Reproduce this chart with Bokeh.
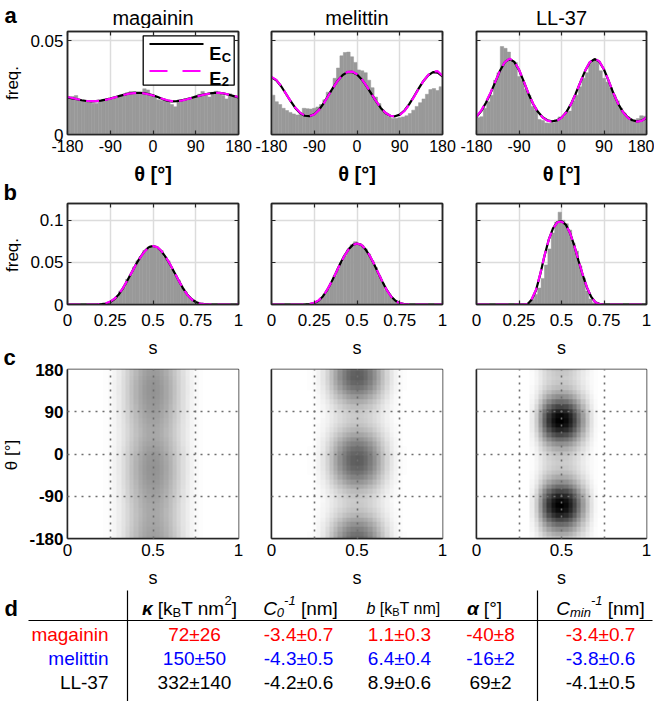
import numpy as np
from bokeh.plotting import figure
from bokeh.layouts import column, row
from bokeh.models import (Range1d, FixedTicker, LinearAxis, LinearColorMapper,
                          CustomJSTickFormatter)
from bokeh.core.properties import value
from bokeh.embed import file_html
from bokeh.resources import INLINE

FONT = "Liberation Sans"
HIST = "#999999"
MAGENTA = "#ff00ff"
AXC = "#262626"

peptides = ["magainin", "melittin", "LL-37"]
row_colors = ["#ff0000", "#0000ff", "#000000"]

theta_ticks = [-180, -90, 0, 90, 180]
theta_grid_ticks = [-90, 0, 90]
freq_ticks_a = [0, 0.05]
s_ticks_b = [0, 0.25, 0.5, 0.75, 1]
freq_ticks_b = [0, 0.05, 0.1]
s_ticks_c = [0, 0.5, 1]
s_grid_c = [0.25, 0.5, 0.75]

# ---- panel a: theta histograms (50 bins, -180..180) ----
theta_hist_magainin = [0.0200, 0.0203, 0.0208, 0.0186, 0.0180, 0.0176, 0.0170, 0.0167, 0.0165, 0.0183,
                       0.0180, 0.0190, 0.0194, 0.0199, 0.0203, 0.0209, 0.0210, 0.0224, 0.0230, 0.0229,
                       0.0220, 0.0226, 0.0244, 0.0238, 0.0215, 0.0205, 0.0186, 0.0182, 0.0184, 0.0178,
                       0.0160, 0.0148, 0.0180, 0.0186, 0.0190, 0.0193, 0.0195, 0.0204, 0.0215, 0.0230,
                       0.0212, 0.0200, 0.0225, 0.0231, 0.0224, 0.0208, 0.0190, 0.0217, 0.0206, 0.0200]
theta_hist_melittin = [0.0210, 0.0175, 0.0160, 0.0140, 0.0128, 0.0118, 0.0110, 0.0104, 0.0106, 0.0140,
                       0.0138, 0.0136, 0.0140, 0.0147, 0.0160, 0.0185, 0.0226, 0.0232, 0.0300, 0.0355,
                       0.0420, 0.0438, 0.0440, 0.0415, 0.0385, 0.0345, 0.0340, 0.0330, 0.0290, 0.0250,
                       0.0200, 0.0165, 0.0130, 0.0110, 0.0095, 0.0085, 0.0087, 0.0090, 0.0094, 0.0100,
                       0.0112, 0.0130, 0.0150, 0.0170, 0.0190, 0.0215, 0.0240, 0.0245, 0.0235, 0.0255]
theta_hist_ll37 = [0.0090, 0.0095, 0.0140, 0.0175, 0.0210, 0.0290, 0.0330, 0.0470, 0.0460, 0.0440,
                   0.0395, 0.0385, 0.0310, 0.0290, 0.0240, 0.0210, 0.0150, 0.0130, 0.0080, 0.0075,
                   0.0062, 0.0060, 0.0062, 0.0080, 0.0094, 0.0095, 0.0120, 0.0125, 0.0180, 0.0210,
                   0.0255, 0.0300, 0.0330, 0.0380, 0.0400, 0.0390, 0.0340, 0.0300, 0.0280, 0.0250,
                   0.0210, 0.0180, 0.0140, 0.0115, 0.0095, 0.0082, 0.0078, 0.0085, 0.0100, 0.0098]

# ---- panel a: fitted curves, theta = -180..180 step 10 ----
theta_Ec_magainin = [0.0198, 0.0193, 0.0188, 0.0183, 0.0179, 0.0177, 0.0178, 0.0181, 0.0186, 0.0192,
                     0.0199, 0.0206, 0.0213, 0.0219, 0.0222, 0.0223, 0.0221, 0.0216, 0.0209, 0.0200,
                     0.0190, 0.0181, 0.0177, 0.0178, 0.0182, 0.0188, 0.0195, 0.0202, 0.0209, 0.0215,
                     0.0220, 0.0222, 0.0222, 0.0218, 0.0212, 0.0205, 0.0198]
theta_E2_magainin = [0.0200, 0.0195, 0.0189, 0.0184, 0.0180, 0.0178, 0.0178, 0.0181, 0.0185, 0.0191,
                     0.0198, 0.0205, 0.0212, 0.0218, 0.0221, 0.0222, 0.0220, 0.0215, 0.0208, 0.0200,
                     0.0191, 0.0183, 0.0178, 0.0178, 0.0181, 0.0187, 0.0194, 0.0201, 0.0208, 0.0214,
                     0.0219, 0.0222, 0.0222, 0.0219, 0.0213, 0.0206, 0.0200]
theta_Ec_melittin = [0.0305, 0.0290, 0.0259, 0.0219, 0.0179, 0.0142, 0.0115, 0.0100, 0.0098, 0.0108,
                     0.0132, 0.0168, 0.0210, 0.0252, 0.0290, 0.0318, 0.0333, 0.0334, 0.0320, 0.0294,
                     0.0258, 0.0218, 0.0178, 0.0142, 0.0115, 0.0100, 0.0097, 0.0106, 0.0128, 0.0162,
                     0.0203, 0.0246, 0.0286, 0.0316, 0.0333, 0.0330, 0.0310]
theta_E2_melittin = [0.0308, 0.0292, 0.0260, 0.0220, 0.0180, 0.0144, 0.0117, 0.0101, 0.0098, 0.0107,
                     0.0130, 0.0166, 0.0208, 0.0250, 0.0289, 0.0318, 0.0334, 0.0336, 0.0322, 0.0296,
                     0.0260, 0.0219, 0.0179, 0.0143, 0.0116, 0.0100, 0.0096, 0.0104, 0.0126, 0.0160,
                     0.0201, 0.0245, 0.0286, 0.0318, 0.0337, 0.0338, 0.0314]
theta_Ec_ll37 = [0.0094, 0.0125, 0.0170, 0.0222, 0.0282, 0.0342, 0.0386, 0.0403, 0.0388, 0.0345,
                 0.0283, 0.0218, 0.0163, 0.0121, 0.0092, 0.0076, 0.0070, 0.0075, 0.0090, 0.0119,
                 0.0162, 0.0218, 0.0280, 0.0340, 0.0385, 0.0403, 0.0389, 0.0347, 0.0285, 0.0220,
                 0.0164, 0.0121, 0.0092, 0.0076, 0.0070, 0.0074, 0.0090]
theta_E2_ll37 = [0.0096, 0.0128, 0.0173, 0.0225, 0.0284, 0.0343, 0.0387, 0.0405, 0.0390, 0.0347,
                 0.0285, 0.0220, 0.0164, 0.0121, 0.0091, 0.0074, 0.0068, 0.0073, 0.0089, 0.0118,
                 0.0161, 0.0217, 0.0280, 0.0341, 0.0387, 0.0406, 0.0391, 0.0348, 0.0286, 0.0221,
                 0.0164, 0.0120, 0.0090, 0.0074, 0.0069, 0.0073, 0.0092]

# ---- panel b: s histograms (50 bins, 0..1) ----
s_hist_magainin = [0, 0, 0, 0, 0, 0, 0, 0, 0, 0.0001,
                   0.0005, 0.0012, 0.0025, 0.0050, 0.0090, 0.0160, 0.0200, 0.0300, 0.0350, 0.0445,
                   0.0520, 0.0570, 0.0640, 0.0660, 0.0700, 0.0690, 0.0660, 0.0640, 0.0560, 0.0520,
                   0.0420, 0.0350, 0.0290, 0.0200, 0.0150, 0.0090, 0.0050, 0.0025, 0.0012, 0.0005,
                   0.0001, 0, 0, 0, 0, 0, 0, 0, 0, 0]
s_hist_melittin = [0, 0, 0, 0, 0, 0, 0, 0, 0, 0,
                   0, 0.0006, 0.0015, 0.0035, 0.0070, 0.0120, 0.0180, 0.0255, 0.0340, 0.0420,
                   0.0500, 0.0580, 0.0650, 0.0710, 0.0745, 0.0720, 0.0705, 0.0660, 0.0600, 0.0520,
                   0.0440, 0.0340, 0.0255, 0.0170, 0.0115, 0.0065, 0.0030, 0.0012, 0.0004, 0,
                   0, 0, 0, 0, 0, 0, 0, 0, 0, 0]
s_hist_ll37 = [0, 0, 0, 0, 0, 0, 0, 0, 0, 0,
               0, 0, 0, 0, 0.0005, 0.0020, 0.0060, 0.0120, 0.0196, 0.0310,
               0.0470, 0.0660, 0.0850, 0.0980, 0.1097, 0.1000, 0.0960, 0.0885, 0.0730, 0.0635,
               0.0460, 0.0315, 0.0160, 0.0065, 0.0020, 0.0005, 0, 0, 0, 0,
               0, 0, 0, 0, 0, 0, 0, 0, 0, 0]

# ---- panel b: fitted curves, s = 0..1 step 0.025 ----
s_Ec_magainin = [0, 0, 0, 0, 0, 0, 0, 0.0001, 0.0004, 0.0012, 0.0030, 0.0065, 0.0120, 0.0195,
                 0.0285, 0.0380, 0.0475, 0.0560, 0.0632, 0.0680, 0.0695, 0.0680, 0.0632, 0.0560,
                 0.0475, 0.0380, 0.0285, 0.0195, 0.0120, 0.0065, 0.0030, 0.0012, 0.0004, 0.0001,
                 0, 0, 0, 0, 0, 0, 0]
s_E2_magainin = [0, 0, 0, 0, 0, 0, 0, 0.0002, 0.0006, 0.0015, 0.0034, 0.0069, 0.0124, 0.0198,
                 0.0286, 0.0379, 0.0472, 0.0556, 0.0628, 0.0677, 0.0694, 0.0681, 0.0635, 0.0563,
                 0.0478, 0.0382, 0.0285, 0.0193, 0.0117, 0.0062, 0.0028, 0.0011, 0.0004, 0.0001,
                 0, 0, 0, 0, 0, 0, 0]
s_Ec_melittin = [0, 0, 0, 0, 0, 0, 0, 0, 0.0002, 0.0006, 0.0018, 0.0045, 0.0095, 0.0170,
                 0.0265, 0.0370, 0.0478, 0.0575, 0.0655, 0.0708, 0.0725, 0.0708, 0.0655, 0.0575,
                 0.0478, 0.0370, 0.0265, 0.0170, 0.0095, 0.0045, 0.0018, 0.0006, 0.0002, 0,
                 0, 0, 0, 0, 0, 0, 0]
s_E2_melittin = [0, 0, 0, 0, 0, 0, 0, 0, 0.0003, 0.0008, 0.0021, 0.0049, 0.0099, 0.0173,
                 0.0266, 0.0369, 0.0475, 0.0572, 0.0652, 0.0706, 0.0724, 0.0709, 0.0658, 0.0579,
                 0.0482, 0.0373, 0.0266, 0.0168, 0.0092, 0.0042, 0.0016, 0.0005, 0.0001, 0,
                 0, 0, 0, 0, 0, 0, 0]
s_Ec_ll37 = [0, 0, 0, 0, 0, 0, 0, 0, 0, 0, 0, 0, 0.0003, 0.0060,
             0.0170, 0.0360, 0.0580, 0.0770, 0.0905, 0.0980, 0.0990, 0.0950, 0.0850, 0.0700,
             0.0520, 0.0350, 0.0200, 0.0090, 0.0025, 0.0005, 0, 0, 0, 0,
             0, 0, 0, 0, 0, 0, 0]
s_E2_ll37 = [0, 0, 0, 0, 0, 0, 0, 0, 0, 0, 0, 0, 0.0005, 0.0065,
             0.0176, 0.0365, 0.0583, 0.0770, 0.0902, 0.0975, 0.0986, 0.0948, 0.0850, 0.0702,
             0.0524, 0.0354, 0.0203, 0.0091, 0.0024, 0.0004, 0, 0, 0, 0,
             0, 0, 0, 0, 0, 0, 0]

# ---- panel d: table ----
table_magainin = ["72±26", "-3.4±0.7", "1.1±0.3", "-40±8", "-3.4±0.7"]
table_melittin = ["150±50", "-4.3±0.5", "6.4±0.4", "-16±2", "-3.8±0.6"]
table_ll37 = ["332±140", "-4.2±0.6", "8.9±0.6", "69±2", "-4.1±0.5"]

theta_hists = [theta_hist_magainin, theta_hist_melittin, theta_hist_ll37]
theta_Ecs = [theta_Ec_magainin, theta_Ec_melittin, theta_Ec_ll37]
theta_E2s = [theta_E2_magainin, theta_E2_melittin, theta_E2_ll37]
s_hists = [s_hist_magainin, s_hist_melittin, s_hist_ll37]
s_Ecs = [s_Ec_magainin, s_Ec_melittin, s_Ec_ll37]
s_E2s = [s_E2_magainin, s_E2_melittin, s_E2_ll37]
table_rows = [table_magainin, table_melittin, table_ll37]

theta_edges = np.linspace(-180, 180, len(theta_hist_magainin) + 1)
s_edges = np.linspace(0, 1, len(s_hist_magainin) + 1)
theta_x = np.arange(-180, 181, 10)
s_x = np.round(np.arange(0, 1.0001, 0.025), 4)

# ---------------- layout constants (page pixels) ----------------
PAGE_W = 654
HEADER_H = 28
SIDE_W = 24
col_w = [230, 205, 195]
col_bl = [43, 17, 17]
col_br = [16, 17, 8]
DASH = "13 6"


def make_fig(w, h, bl, br, bt, bb, xr, yr):
    p = figure(width=w, height=h, x_range=xr, y_range=yr,
               min_border_left=bl, min_border_right=br,
               min_border_top=bt, min_border_bottom=bb,
               output_backend="svg", toolbar_location=None, tools="")
    p.outline_line_color = AXC
    p.outline_line_width = 1.5
    p.background_fill_color = "white"
    p.border_fill_color = "white"
    return p


def text_fig(w, h, y0):
    # a figure without axes whose data units are page pixels
    p = figure(width=w, height=h, x_range=Range1d(0, w), y_range=Range1d(y0 + h, y0),
               min_border=0, x_axis_type=None, y_axis_type=None,
               output_backend="svg", toolbar_location=None, tools="")
    p.outline_line_color = None
    p.border_fill_color = "white"
    p.background_fill_color = "white"
    return p


def style_axis(ax, ticks, show=True, size="17px", bold=False, tick_in=4, standoff=4):
    ax.ticker = FixedTicker(ticks=ticks)
    ax.formatter = CustomJSTickFormatter(code="return '';" if not show else "return tick.toString();")
    ax.axis_line_color = AXC
    ax.axis_line_width = 1.5
    ax.major_tick_line_color = AXC if tick_in else None
    ax.major_tick_line_width = 1.2
    ax.major_tick_in = tick_in
    ax.major_tick_out = 0
    ax.minor_tick_line_color = None
    ax.major_label_text_font = FONT
    ax.major_label_text_font_size = size if show else "1px"
    ax.major_label_text_font_style = "bold" if bold else "normal"
    ax.major_label_text_color = "black"
    ax.major_label_standoff = standoff if show else 0


def set_label(ax, text, size="17px", style="normal", standoff=3):
    ax.axis_label = text
    ax.axis_label_text_font = FONT
    ax.axis_label_text_font_size = size
    ax.axis_label_text_font_style = style
    ax.axis_label_text_color = "black"
    ax.axis_label_standoff = standoff


def box_axes(p, xticks, yticks, tick_in=4):
    for place, ticks in (("right", yticks), ("above", xticks)):
        ax = LinearAxis()
        style_axis(ax, ticks, show=False, tick_in=tick_in)
        p.add_layout(ax, place)


def put_text(p, x, y, text, size, style="normal", align="left", baseline="alphabetic",
             color="black", angle=0.0):
    return p.text(x=[x], y=[y], text=[text], text_font=value(FONT), text_font_size=size,
                  text_font_style=style, text_align=align, text_baseline=baseline,
                  text_color=color, angle=angle)


# ---------------- header (titles + "a") ----------------
header = text_fig(PAGE_W, HEADER_H, 0)
frame_left = [67, 271, 476]
frame_right = [238, 442, 646]
for j, name in enumerate(peptides):
    put_text(header, (frame_left[j] + frame_right[j]) / 2, 17, name, "20px", align="center")
put_text(header, 4, 15, "a", "22px", style="bold", baseline="middle")

# ---------------- side column (y labels, letters b, c) ----------------
ROWS_TOP = HEADER_H
ROWS_H = 162 + 170 + 230
side = text_fig(SIDE_W, ROWS_H, ROWS_TOP)
put_text(side, 12, (31 + 134) / 2, "freq.", "17px", align="center", baseline="middle", angle=np.pi / 2)
put_text(side, 12, (203 + 306) / 2, "freq.", "17px", align="center", baseline="middle", angle=np.pi / 2)
put_text(side, 11, (369 + 540) / 2, "θ [°]", "17px", align="center", baseline="middle", angle=np.pi / 2)
put_text(side, 3, 192, "b", "22px", style="bold")
put_text(side, 3, 357, "c", "22px", style="bold")

# ---------------- row a ----------------
row_a = []
for j, name in enumerate(peptides):
    p = make_fig(col_w[j], 162, col_bl[j], col_br[j], 3, 56, Range1d(-180, 180), Range1d(0, 0.055))
    p.quad(left=theta_edges[:-1], right=theta_edges[1:], bottom=0, top=theta_hists[j],
           fill_color=HIST, line_color=HIST, line_width=0.5)
    p.line(theta_x, theta_Ecs[j], line_color="black", line_width=2.2)
    p.line(theta_x, theta_E2s[j], line_color=MAGENTA, line_width=2.2, line_dash=DASH)
    style_axis(p.xaxis[0], theta_ticks, size="16px", standoff=5)
    set_label(p.xaxis[0], "θ [°]", size="20px", style="bold", standoff=8)
    style_axis(p.yaxis[0], freq_ticks_a, show=(j == 0))
    box_axes(p, theta_ticks, freq_ticks_a)
    p.xgrid.ticker = FixedTicker(ticks=theta_grid_ticks)
    p.ygrid.ticker = FixedTicker(ticks=[0.05])
    p.grid.grid_line_color = "#dcdcdc"
    p.grid.grid_line_width = 1.5
    if j == 0:
        # legend box drawn inside the first panel (page px converted to data units)
        fx0, fx1, fy0, fy1 = 67, 238, 134, 31

        def dx(px):
            return -180 + (px - fx0) * 360 / (fx1 - fx0)

        def dy(py):
            return (fy0 - py) * 0.055 / (fy0 - fy1)

        p.quad(left=[dx(142.7)], right=[dx(233.7)], top=[dy(35.3)], bottom=[dy(84.7)],
               fill_color="white", line_color="black", line_width=1.3)
        p.line([dx(149), dx(203)], [dy(43.5), dy(43.5)], line_color="black", line_width=2.2)
        p.line([dx(149), dx(203)], [dy(70.5), dy(70.5)], line_color=MAGENTA, line_width=2.2,
               line_dash="18 15")
        put_text(p, dx(208.7), dy(53.5), "E", "18px", style="bold")
        put_text(p, dx(221.3), dy(56.5), "C", "13px", style="bold")
        put_text(p, dx(208.7), dy(78.5), "E", "18px", style="bold")
        put_text(p, dx(221.3), dy(81), "2", "13px", style="bold")
    row_a.append(p)

# ---------------- row b ----------------
row_b = []
for j, name in enumerate(peptides):
    p = make_fig(col_w[j], 170, col_bl[j], col_br[j], 13, 54, Range1d(0, 1), Range1d(0, 0.12))
    p.quad(left=s_edges[:-1], right=s_edges[1:], bottom=0, top=s_hists[j],
           fill_color=HIST, line_color=HIST, line_width=0.5)
    p.line(s_x, s_Ecs[j], line_color="black", line_width=2.2)
    p.line(s_x, s_E2s[j], line_color=MAGENTA, line_width=2.2, line_dash=DASH)
    style_axis(p.xaxis[0], s_ticks_b, standoff=9)
    set_label(p.xaxis[0], "s", size="18px", standoff=9)
    style_axis(p.yaxis[0], freq_ticks_b, show=(j == 0))
    box_axes(p, s_ticks_b, freq_ticks_b)
    p.xgrid.ticker = FixedTicker(ticks=[0.25, 0.5, 0.75])
    p.ygrid.ticker = FixedTicker(ticks=[0.05, 0.1])
    p.grid.grid_line_color = "#dcdcdc"
    p.grid.grid_line_width = 1.5
    row_b.append(p)

# ---------------- row c ----------------
heat = [np.outer(np.array(theta_Ecs[j]), np.array(s_Ecs[j])) for j in range(3)]
hmax = max(float(h.max()) for h in heat)
gray_palette = ["#%02x%02x%02x" % ((round(255 * (1 - (k / 255) ** 0.9)),) * 3) for k in range(256)]
mapper = LinearColorMapper(palette=gray_palette, low=0, high=hmax)
ds = float(s_x[1] - s_x[0])
dt = float(theta_x[1] - theta_x[0])

row_c = []
for j, name in enumerate(peptides):
    p = make_fig(col_w[j], 230, col_bl[j], col_br[j], 9, 50, Range1d(0, 1), Range1d(-180, 180))
    p.image(image=[heat[j]], x=float(s_x[0]) - ds / 2, y=float(theta_x[0]) - dt / 2,
            dw=float(s_x[-1] - s_x[0]) + ds, dh=float(theta_x[-1] - theta_x[0]) + dt,
            color_mapper=mapper)
    style_axis(p.xaxis[0], s_ticks_c, tick_in=0, standoff=5)
    set_label(p.xaxis[0], "s", size="18px", standoff=9)
    style_axis(p.yaxis[0], theta_ticks, show=(j == 0), bold=True, tick_in=0)
    p.xgrid.ticker = FixedTicker(ticks=s_grid_c)
    p.ygrid.ticker = FixedTicker(ticks=theta_grid_ticks)
    p.grid.grid_line_color = "#6e6e6e"
    p.grid.grid_line_width = 1.6
    p.grid.grid_line_dash = "2 5"
    p.grid.level = "overlay"
    row_c.append(p)

# ---------------- table d ----------------
TABLE_TOP = ROWS_TOP + ROWS_H
tb = text_fig(PAGE_W, 701 - TABLE_TOP, TABLE_TOP)
tb.segment(x0=[127, 537, 28], y0=[586, 586, 620], x1=[127, 537, 652], y1=[701, 701, 620],
           line_color="black", line_width=1.2)
put_text(tb, 4, 608, "d", "22px", style="bold")

row_y = [634, 658, 682]
col_cx = [194, 298, 399, 490, 600]
for i, name in enumerate(peptides):
    put_text(tb, 108, row_y[i], name, "19px", align="right", baseline="middle", color=row_colors[i])
    tb.text(x=col_cx, y=[row_y[i]] * 5, text=table_rows[i], text_font=value(FONT),
            text_font_size="19px", text_align="center", text_baseline="middle",
            text_color=row_colors[i])

CW = {' ': 0.278, '[': 0.278, ']': 0.278, 'k': 0.5, 'B': 0.667, 'T': 0.611, 'n': 0.556,
      'm': 0.833, 'i': 0.222, '2': 0.556, '0': 0.556, '1': 0.556, '-': 0.333, 'C': 0.722,
      'b': 0.556, '°': 0.4, 'κ': 0.556, 'α': 0.611}


def text_w(txt, size):
    return sum(CW.get(c, 0.556) for c in txt) * size


header_pieces = [
    (189, [("κ", 19, "bold italic", 0), (" [k", 19, "normal", 0), ("B", 13, "normal", 4),
           ("T nm", 19, "normal", 0), ("2", 13, "normal", -8), ("]", 19, "normal", 0)]),
    (300, [("C", 19, "italic", 0), ("0", 13, "italic", 4), ("-1", 13, "italic", -8),
           (" [nm]", 19, "normal", 0)]),
    (403, [("b", 16, "italic", 0), (" [k", 16, "normal", 0), ("B", 11, "normal", 3),
           ("T nm]", 16, "normal", 0)]),
    (484, [("α", 19, "bold italic", 0), (" [°]", 19, "normal", 0)]),
    (600, [("C", 19, "italic", 0), ("min", 13, "italic", 4), ("-1", 13, "italic", -8),
           (" [nm]", 19, "normal", 0)]),
]
header_baseline = 608
for cx, pieces in header_pieces:
    total = sum(text_w(t, s) for t, s, _, _ in pieces)
    x = cx - total / 2
    for t, s, st, dyy in pieces:
        lead = len(t) - len(t.lstrip(" "))
        x += lead * CW[" "] * s
        body = t.lstrip(" ")
        put_text(tb, x, header_baseline + dyy, body, "%dpx" % s, style=st)
        x += text_w(body, s)

layout = column(header,
                row(side, column(row(*row_a), row(*row_b), row(*row_c))),
                tb)
open("out.html", "w").write(file_html(layout, INLINE))
